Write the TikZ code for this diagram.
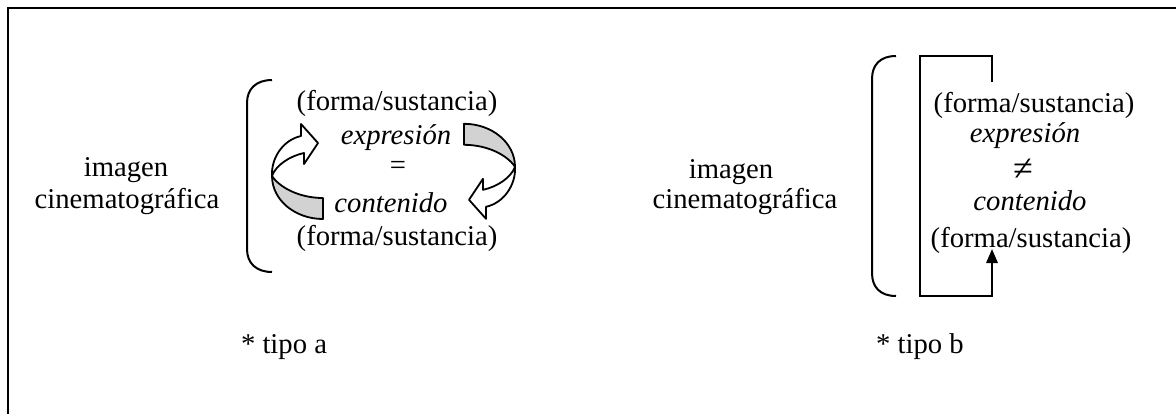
\documentclass[tikz,border=0pt]{standalone}
\usepackage{fontspec}
\setmainfont{Liberation Serif}
\usetikzlibrary{arrows.meta}

% curled ribbon arrow: grey back side below, white front side with the head above
\newcommand{\drawcurlarrow}{%
  \coordinate (rA) at (323,219);
  \coordinate (rB) at (323,198);
  \coordinate (rT) at (272,176);
  \coordinate (rO) at (301,136);
  \coordinate (rH) at (301,124);
  \coordinate (rP) at (318,143);
  \coordinate (rL) at (304,164);
  \coordinate (rN) at (304,153);
  \draw[back] (rT) .. controls (272,200) and (295,219) .. (rA) -- (rB)
    .. controls (300,198) and (280,188) .. (rT) -- cycle;
  \draw[front] (rT) .. controls (271,158) and (283,140) .. (rO) -- (rH) -- (rP)
    -- (rL) -- (rN) .. controls (290,156) and (276,165) .. (rT) -- cycle;
}

\begin{document}
\begin{tikzpicture}[x=0.75pt,y=-0.75pt,
  txt/.style={font=\fontsize{21.5pt}{25pt}\selectfont, inner sep=0pt, anchor=base},
  itxt/.style={txt, font=\fontsize{21.5pt}{25pt}\selectfont\itshape},
  bigsym/.style={txt, font=\fontsize{27pt}{30pt}\selectfont},
  bracket/.style={line width=1.5pt},
  ribbon/.style={line width=1.35pt, line join=round},
  back/.style={ribbon, fill=gray!35},
  front/.style={ribbon, fill=white},
  loopline/.style={line width=1.5pt},
  frame/.style={line width=1.8pt}]
\useasboundingbox (0,0) rectangle (1176,414);

% outer frame (only its top and left sides fall inside the page)
\draw[frame] (1176,8) -- (8,8) -- (8,414);

% ---- type a ----
\node[txt] (imgA) at (126,176) {imagen};
\node[txt] (cinA) at (127,208) {cinematográfica};
\draw[bracket] (272,80) .. controls (256,80) and (247,89) .. (247,103)
  -- (247,249) .. controls (247,263) and (256,272) .. (272,272);
\node[txt]  (fsA1) at (397,110) {(forma/sustancia)};
\node[itxt] (exA)  at (396,144) {expresión};
\node[txt]  (eqA)  at (398,174) {=};
\node[itxt] (coA)  at (391,212) {contenido};
\node[txt]  (fsA2) at (397,245) {(forma/sustancia)};
\drawcurlarrow
\begin{scope}[rotate around={180:(393.5,171.4)}]
  \drawcurlarrow
\end{scope}
\node[txt] (tipoA) at (284,353) {* tipo a};

% ---- type b ----
\node[txt] (imgB) at (731,178) {imagen};
\node[txt] (cinB) at (745,208) {cinematográfica};
\draw[bracket] (896,56) .. controls (880,56) and (872,65) .. (872,79)
  -- (872,273) .. controls (872,287) and (880,296) .. (896,296);
\node[txt]  (fsB1) at (1034,112) {(forma/sustancia)};
\node[itxt] (exB)  at (1025,142) {expresión};
\node[bigsym] (neB) at (1023,180) {≠};
\node[itxt] (coB)  at (1030,210) {contenido};
\node[txt]  (fsB2) at (1031,247) {(forma/sustancia)};
\coordinate (loopTop) at (992,82);
\coordinate (loopTip) at (992,249);
\draw[loopline,-{Triangle[length=10.5pt,width=8.5pt]}]
  (loopTop) |- (920,56) |- (992,296) -- (loopTip);
\node[txt] (tipoB) at (920,353) {* tipo b};
\end{tikzpicture}
\end{document}
